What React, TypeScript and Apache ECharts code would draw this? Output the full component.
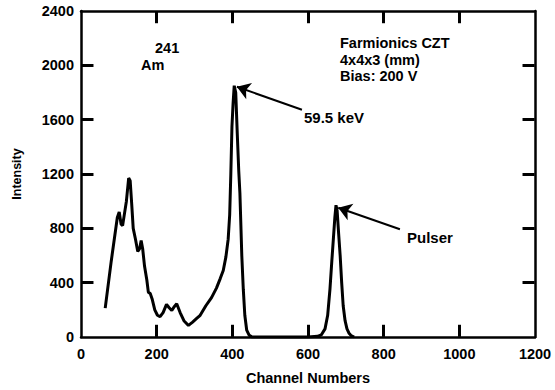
import React, { useEffect, useRef } from "react";
import * as echarts from "echarts";

const channels = [64, 80, 96, 101, 106, 110, 115, 120, 126, 130, 134, 138, 144, 150, 155, 159, 163, 168, 174, 178, 183, 188, 195, 202, 209, 217, 226, 233, 240, 247, 253, 262, 272, 284, 295, 305, 315, 330, 345, 358, 368, 376, 383, 389, 393, 396, 399, 402, 405, 409, 413, 417, 420, 425, 429, 433, 438, 444, 452, 520, 600, 625, 635, 645, 652, 658, 663, 667, 671, 674, 677, 681, 685, 689, 693, 698, 703, 708, 714, 722];
const intensity = [213, 560, 880, 920, 830, 820, 910, 1000, 1170, 1150, 980, 800, 720, 630, 650, 710, 650, 520, 420, 330, 320, 280, 200, 160, 150, 180, 240, 215, 195, 225, 245, 180, 120, 85, 110, 135, 160, 230, 290, 360, 430, 490, 590, 720, 900, 1200, 1550, 1720, 1850, 1800, 1500, 1220, 1060, 600, 350, 160, 50, 15, 0, 0, 0, 5, 15, 60, 160, 350, 560, 720, 880, 970, 930, 760, 600, 400, 230, 120, 60, 30, 10, 0];

const xTicks = { min: 0, max: 1200, interval: 200 };
const yTicks = { min: 0, max: 2400, interval: 400 };
const xTickValues = [200, 400, 600, 800, 1000];
const yTickValues = [400, 800, 1200, 1600, 2000];

// annotation arrows (data coordinates): [from, to]
const peakArrow = [[584, 1673], [412, 1842]];
const pulserArrow = [[843, 793], [680, 952]];

const FONT = '"Liberation Sans", Arial, Helvetica, sans-serif';
// inward tick length expressed in axis units (~12px)
const X_TICK_UNITS = 90; // along y
const Y_TICK_UNITS = 33; // along x

export default function App() {
  const ref = useRef<HTMLDivElement>(null);
  useEffect(() => {
    if (!ref.current) return;
    const chart = echarts.init(ref.current, undefined, { renderer: "svg" });
    const axisLine = () => ({ show: true, onZero: false, lineStyle: { color: "#000", width: 2.5 } });
    const label = { color: "#000", fontFamily: FONT, fontWeight: "bold" as const, fontSize: 14.5 };
    const fmt = (v: number) => String(v);
    const txt = (text: string, x: number, y: number, size = 14.5) => ({
      type: "text",
      x,
      y,
      style: { text, fill: "#000", font: `bold ${size}px ${FONT}`, align: "left", verticalAlign: "middle" },
    });
    const seg = (a: number[], b: number[]) => [
      { coord: a, symbol: "none", lineStyle: { color: "#000", width: 3 } },
      { coord: b, symbol: "none" },
    ];
    const tickLines = [
      ...xTickValues.flatMap((v) => [
        seg([v, yTicks.min + 1], [v, yTicks.min + X_TICK_UNITS]),
        seg([v, yTicks.max - 1], [v, yTicks.max - X_TICK_UNITS]),
      ]),
      ...yTickValues.flatMap((v) => [
        seg([xTicks.min + 1, v], [xTicks.min + Y_TICK_UNITS, v]),
        seg([xTicks.max - 1, v], [xTicks.max - Y_TICK_UNITS, v]),
      ]),
    ];
    const data = channels.map((c, i) => [c, intensity[i]]);
    chart.setOption({
      animation: false,
      backgroundColor: "#fff",
      grid: { left: 81, top: 11, right: 20, bottom: 52 },
      xAxis: [
        {
          type: "value", ...xTicks, position: "bottom",
          axisLine: axisLine(), axisTick: { show: false }, splitLine: { show: false },
          axisLabel: { ...label, margin: 9, formatter: fmt },
          name: "Channel Numbers", nameLocation: "middle", nameGap: 33,
          nameTextStyle: { ...label },
        },
        {
          type: "value", ...xTicks, position: "top",
          axisLine: axisLine(), axisTick: { show: false }, splitLine: { show: false }, axisLabel: { show: false },
        },
      ],
      yAxis: [
        {
          type: "value", ...yTicks, position: "left",
          axisLine: axisLine(), axisTick: { show: false }, splitLine: { show: false },
          axisLabel: { ...label, margin: 7, formatter: fmt },
          name: "Intensity", nameLocation: "middle", nameGap: 58, nameRotate: 90,
          nameTextStyle: { ...label, fontSize: 12.5 },
        },
        {
          type: "value", ...yTicks, position: "right",
          axisLine: axisLine(), axisTick: { show: false }, splitLine: { show: false }, axisLabel: { show: false },
        },
      ],
      series: [
        {
          type: "line",
          data,
          showSymbol: false,
          symbol: "none",
          lineStyle: { color: "#000", width: 3 },
          markLine: {
            silent: true,
            symbol: ["none", "arrow"],
            symbolSize: 13,
            label: { show: false },
            lineStyle: { color: "#000", width: 2, type: "solid" },
            itemStyle: { color: "#000" },
            data: [
              [{ coord: peakArrow[0] }, { coord: peakArrow[1] }],
              [{ coord: pulserArrow[0] }, { coord: pulserArrow[1] }],
              ...tickLines,
            ],
          },
        },
      ],
      graphic: [
        txt("241", 155, 48),
        txt("Am", 141, 65),
        txt("Farmionics CZT", 340, 43),
        txt("4x4x3 (mm)", 340, 60),
        txt("Bias: 200 V", 340, 76),
        txt("59.5 keV", 304, 117, 15),
        txt("Pulser", 407, 237, 15),
      ],
    });
    return () => chart.dispose();
  }, []);
  return <div ref={ref} style={{ position: "fixed", left: 0, top: 0, width: 555, height: 390 }} />;
}
